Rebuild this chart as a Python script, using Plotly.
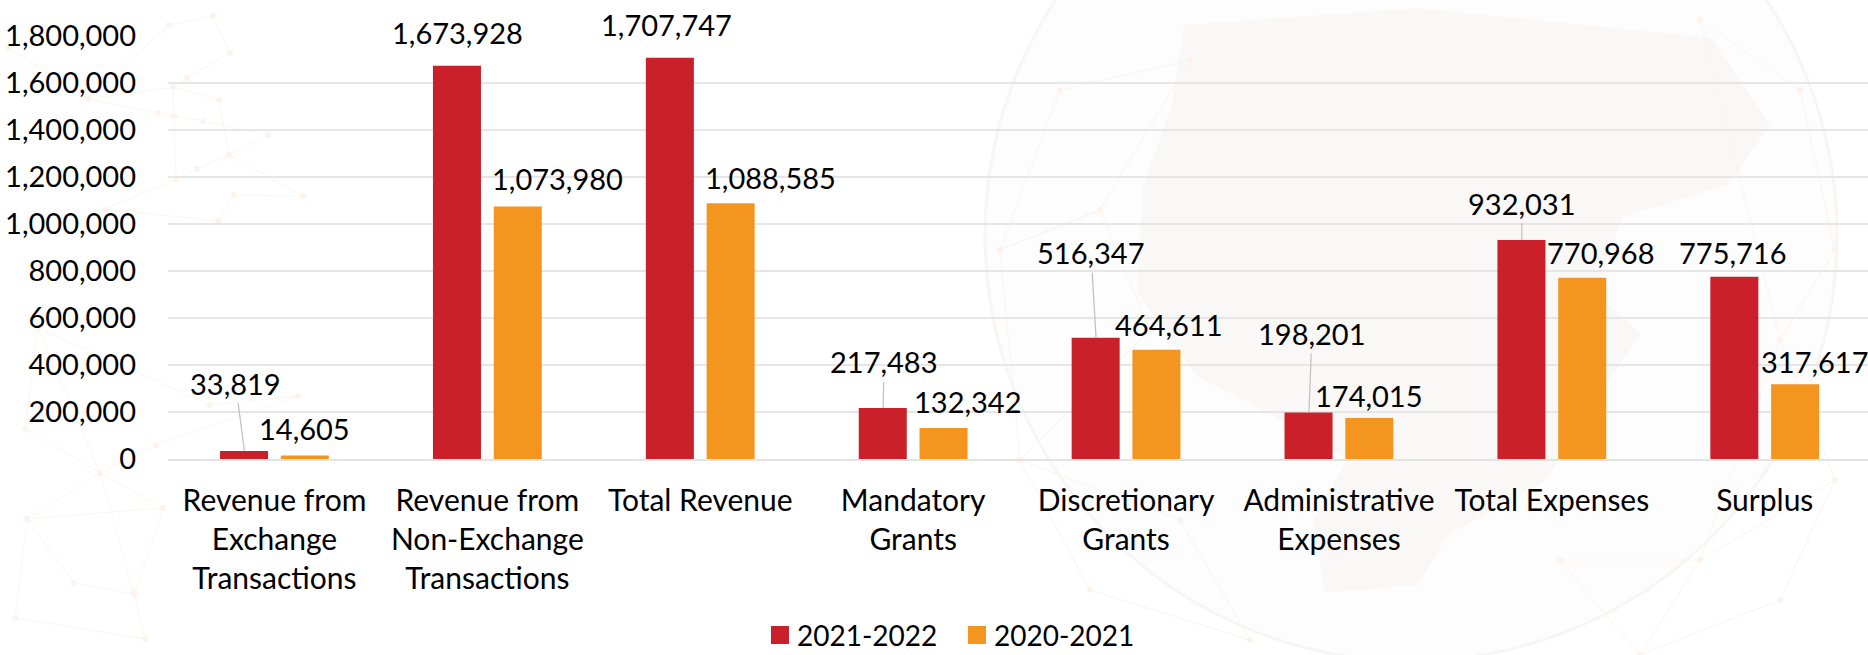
import plotly.graph_objects as go

categories = ["Revenue from<br>Exchange<br>Transactions", "Revenue from<br>Non-Exchange<br>Transactions",
              "Total Revenue", "Mandatory<br>Grants", "Discretionary<br>Grants",
              "Administrative<br>Expenses", "Total Expenses", "Surplus"]
values_2122 = [33819, 1673928, 1707747, 217483, 516347, 198201, 932031, 775716]
values_2021 = [14605, 1073980, 1088585, 132342, 464611, 174015, 770968, 317617]
y_ticks = [0, 200000, 400000, 600000, 800000, 1000000, 1200000, 1400000, 1600000, 1800000]

RED, ORANGE = "#C9202A", "#F4951F"
FONT = "Lato"
W, H = 1868, 655
L, T, B = 168, 36, 459

# label offsets in pixels from bar-top centre: (dx, dy, leader line?)
red_off = [(-9, -68, True), (0, -33, False), (-4, -33, False), (1, -46, True),
           (-5, -85, True), (3, -79, True), (0, -36.6, True), (-2, -24, False)]
org_off = [(0, -27, False), (40.5, -28.6, False), (40, -26, False), (25, -26, False),
           (13, -25, False), (0, -23, False), (19, -25, False), (20, -23, False)]


def px(x):
    return (x - L) / (W - L)


def py(y):
    return (B - y) / (B - T)


def path(points, close=False):
    d = "M " + " L ".join(f"{px(x):.4f},{py(y):.4f}" for x, y in points)
    return d + (" Z" if close else "")


# faint watermark behind the chart (page pixels)
land = [(1184, 25), (1418, 8), (1711, 38), (1770, 125), (1729, 184), (1623, 217), (1594, 292), (1641, 334),
        (1582, 418), (1547, 480), (1448, 535), (1418, 585), (1325, 593), (1313, 522), (1348, 459), (1278, 418),
        (1196, 376), (1137, 292), (1143, 188), (1172, 104)]
net_left = [(38, 328), (210, 405), (298, 396), (156, 445), (100, 473), (25, 429), (38, 328), (100, 473), (163, 508),
            (27, 519), (100, 473), (134, 594), (74, 583), (27, 519), (15, 618), (145, 639), (134, 594), (163, 508)]
net_top = [(8, 48), (88, 99), (169, 25), (213, 16), (230, 53), (187, 78), (173, 87), (88, 99), (158, 113), (174, 116),
           (203, 121), (268, 135), (229, 155), (197, 169), (176, 179), (105, 209), (218, 221), (234, 195), (303, 196),
           (229, 155), (219, 100), (173, 87), (174, 116), (176, 179)]
net_globe = [(1020, 460), (1090, 590), (1250, 640), (1180, 520), (1020, 460), (1000, 250), (1060, 90), (1190, 60),
             (1100, 210), (1000, 250), (1100, 210), (1150, 330), (1020, 460)]
net_right = [(1640, 655), (1700, 560), (1835, 480), (1780, 600), (1640, 655), (1560, 560), (1700, 560), (1780, 340),
             (1835, 250), (1800, 90), (1700, 20), (1780, 340), (1835, 480)]

shapes = [
    dict(type="circle", xref="paper", yref="paper", x0=px(985), x1=px(1837), y0=py(661), y1=py(-191),
         line=dict(color="#F8F6F4", width=3), fillcolor="rgba(252,252,251,0.6)", layer="below"),
    dict(type="path", xref="paper", yref="paper", path=path(land, True), fillcolor="#F9F8F6",
         line=dict(width=0), layer="below"),
]
for pts, col in ((net_left, "#FCF6F2"), (net_top, "#FCF6F2"), (net_globe, "#F9F4F0"), (net_right, "#F9F4F0")):
    shapes.append(dict(type="path", xref="paper", yref="paper", path=path(pts), line=dict(color=col, width=1),
                       layer="below"))
    for x, y in pts:
        shapes.append(dict(type="circle", xref="paper", yref="paper", x0=px(x - 3), x1=px(x + 3), y0=py(y + 3),
                           y1=py(y - 3), fillcolor="#FDF3EC", line=dict(width=0), layer="below"))

fig = go.Figure()
fig.add_bar(name="2021-2022", x=categories, y=values_2122, marker_color=RED, marker_line_width=0)
fig.add_bar(name="2020-2021", x=categories, y=values_2021, marker_color=ORANGE, marker_line_width=0)

annos = []
for i in range(len(categories)):
    for vals, off, sign in ((values_2122, red_off, -1), (values_2021, org_off, 1)):
        dx, dy, leader = off[i]
        a = dict(x=i, y=vals[i], xref="x", yref="y", text=f"{vals[i]:,}",
                 font=dict(family=FONT, size=29, color="#000"), xanchor="center", yanchor="middle")
        if leader:
            a.update(showarrow=True, arrowhead=0, arrowwidth=1.2, arrowcolor="#BFBFBF",
                     xshift=sign * 30, ax=dx, ay=dy, standoff=0, borderpad=2)
        else:
            a.update(showarrow=False, xshift=sign * 30 + dx, yshift=-dy)
        annos.append(a)

fig.update_layout(
    width=W, height=H, autosize=False,
    margin=dict(l=L, r=0, t=T, b=H - B, autoexpand=False),
    paper_bgcolor="white", plot_bgcolor="rgba(0,0,0,0)",
    barmode="group", bargap=0.429, bargroupgap=0.21,
    font=dict(family=FONT, size=28, color="#000"),
    annotations=annos, shapes=shapes,
    legend=dict(orientation="h", xref="container", yref="container", x=0.5107, xanchor="center",
                y=0.03, yanchor="middle", font=dict(size=28), traceorder="normal",
                itemwidth=30, entrywidth=152, bgcolor="rgba(0,0,0,0)"),
)
fig.update_xaxes(type="category", tickfont=dict(family=FONT, size=30), ticks="", ticklen=0,
                 showline=True, linecolor="#E3E3E3", linewidth=2, showgrid=False, tickangle=0,
                 range=[-0.5, 7.485], automargin=False, ticklabelstandoff=14)
fig.update_yaxes(range=[0, 1800000], tickvals=y_ticks, ticktext=[f"{v:,}" for v in y_ticks],
                 showgrid=True, gridcolor="#E6E6E6", gridwidth=2, zeroline=False, ticks="",
                 tickfont=dict(family=FONT, size=29), automargin=False, ticklabelstandoff=31)

post = """
document.body.style.margin = '0';
document.querySelectorAll('.legend path.legendbar, .legend .legendpoints path').forEach(function (p) {
  p.setAttribute('transform', 'translate(23,0) scale(1.5)');
});
"""
fig.write_html("out.html", post_script=post, config={"displayModeBar": False})
